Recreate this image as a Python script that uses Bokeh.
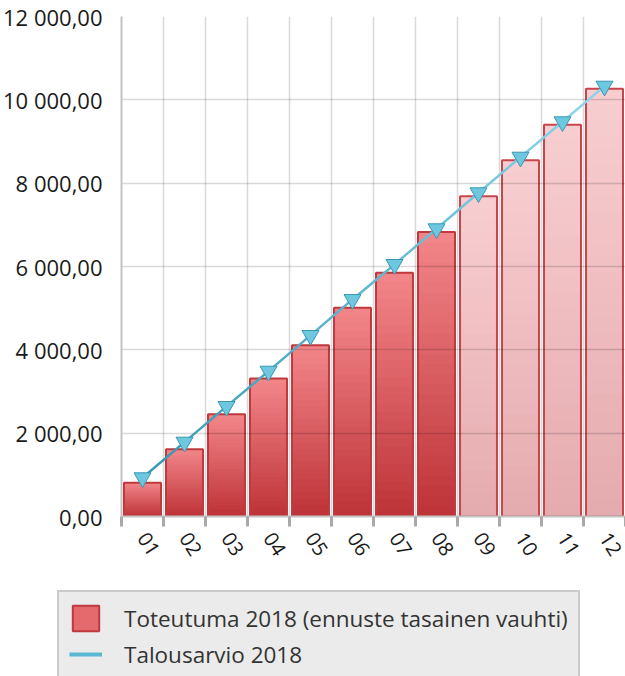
from bokeh.plotting import figure
from bokeh.models import (ColumnDataSource, Range1d, FixedTicker, Legend, LegendItem)
from bokeh.embed import file_html
from bokeh.resources import INLINE

# ---- data ----
month_labels = ["01", "02", "03", "04", "05", "06", "07", "08", "09", "10", "11", "12"]
months = [1, 2, 3, 4, 5, 6, 7, 8, 9, 10, 11, 12]
toteutuma = [811, 1613, 2453, 3312, 4109, 5011, 5851, 6828, 7684, 8548, 9403, 10266]
is_forecast = [False, False, False, False, False, False, False, False, True, True, True, True]
talousarvio = [931, 1785, 2642, 3489, 4346, 5210, 6050, 6907, 7771, 8625, 9475, 10329]
y_ticks = [0, 2000, 4000, 6000, 8000, 10000, 12000]
y_tick_labels = ["0,00", "2 000,00", "4 000,00", "6 000,00", "8 000,00", "10 000,00", "12 000,00"]
bar_label = "Toteutuma 2018 (ennuste tasainen vauhti)"
line_label = "Talousarvio 2018"

FONT = "Open Sans"


def hex2rgb(h):
    h = h.lstrip("#")
    return tuple(int(h[i:i + 2], 16) for i in (0, 2, 4))


def mix(c1, c2, t):
    a, b = hex2rgb(c1), hex2rgb(c2)
    return "#%02x%02x%02x" % tuple(int(round(a[i] + (b[i] - a[i]) * t)) for i in range(3))


p = figure(width=625, height=580, output_backend="svg", toolbar_location=None,
           x_range=Range1d(0.5, 12.5), y_range=Range1d(0, 12000),
           min_border_left=120, min_border_right=0, min_border_top=16, min_border_bottom=64)
p.outline_line_color = None
p.background_fill_color = "white"

# ---- gradient bars (layered, opaque) ----
N = 28
act_top, act_bot = "#f3878b", "#bd3236"
fc_top, fc_bot = "#f8ced1", "#e5abae"
act_x = [m for m, f in zip(months, is_forecast) if not f]
act_v = [v for v, f in zip(toteutuma, is_forecast) if not f]
fc_x = [m for m, f in zip(months, is_forecast) if f]
fc_v = [v for v, f in zip(toteutuma, is_forecast) if f]
for k in range(N):
    frac = (N - k) / N
    t = (N - k - 0.5) / N  # 1 = top colour
    r1 = p.vbar(x=act_x, top=[v * frac for v in act_v], bottom=0, width=0.88,
                fill_color=mix(act_bot, act_top, t), line_color=None)
    r2 = p.vbar(x=fc_x, top=[v * frac for v in fc_v], bottom=0, width=0.88,
                fill_color=mix(fc_bot, fc_top, t), line_color=None)
    r1.level = "image"
    r2.level = "image"
o1 = p.vbar(x=act_x, top=act_v, bottom=0, width=0.88, fill_color=None,
            line_color="#c0393d", line_width=2)
o2 = p.vbar(x=fc_x, top=fc_v, bottom=0, width=0.88, fill_color=None,
            line_color="#c8464a", line_width=2)
o1.level = "image"
o2.level = "image"

# ---- budget line with colour gradient ----
seg_src = ColumnDataSource(dict(
    x0=months[:-1], y0=talousarvio[:-1], x1=months[1:], y1=talousarvio[1:],
    c=[mix("#3a9bb6", "#8ad5ea", i / (len(months) - 2)) for i in range(len(months) - 1)]))
p.segment(x0="x0", y0="y0", x1="x1", y1="y1", source=seg_src, line_color="c",
          line_width=2.5, line_cap="round")
p.scatter(x=months, y=talousarvio, marker="inverted_triangle", size=17,
          fill_color="#6dc7df", line_color="#3b98b2", line_width=1)

# ---- axes ----
xt = FixedTicker(ticks=months, minor_ticks=[m - 0.5 for m in months] + [12.5])
p.xaxis.ticker = xt
p.xaxis.major_label_overrides = {m: lab for m, lab in zip(months, month_labels)}
p.xaxis.major_tick_line_color = None
p.xaxis.minor_tick_line_color = "#a9a9a9"
p.xaxis.minor_tick_line_width = 3
p.xaxis.minor_tick_in = 0
p.xaxis.minor_tick_out = 10
p.xaxis.axis_line_color = "#c4c4c4"
p.xaxis.axis_line_width = 2
p.xaxis.major_label_orientation = -1.0
p.xaxis.major_label_text_font = FONT
p.xaxis.major_label_text_font_size = "20px"
p.xaxis.major_label_text_color = "#1a1a1a"
p.xaxis.major_label_standoff = 8

p.yaxis.ticker = FixedTicker(ticks=y_ticks)
p.yaxis.major_label_overrides = {t: lab for t, lab in zip(y_ticks, y_tick_labels)}
p.yaxis.major_tick_line_color = None
p.yaxis.minor_tick_line_color = None
p.yaxis.axis_line_color = "#c4c4c4"
p.yaxis.axis_line_width = 2
p.yaxis.major_label_text_font = FONT
p.yaxis.major_label_text_font_size = "22px"
p.yaxis.major_label_text_color = "#1a1a1a"
p.yaxis.major_label_standoff = 13

p.xgrid.grid_line_color = None
p.xgrid.minor_grid_line_color = "black"
p.xgrid.minor_grid_line_alpha = 0.15
p.xgrid.minor_grid_line_width = 1.5
p.ygrid.grid_line_color = "black"
p.ygrid.grid_line_alpha = 0.15
p.ygrid.grid_line_width = 1.5

# ---- legend strip (separate root so its frame spans the full width) ----
lf = figure(width=625, height=96, output_backend="svg", toolbar_location=None,
            x_axis_type=None, y_axis_type=None, x_range=Range1d(0, 1), y_range=Range1d(0, 1),
            min_border=0)
lf.outline_line_color = None
lf.xgrid.visible = False
lf.ygrid.visible = False
leg_bar = lf.vbar(x=[0.5], top=[-2], bottom=[-3], width=0.5, fill_color="#e56a6e",
                  line_color="#c0393d", line_width=2)
leg_line = lf.line(x=[0.4, 0.6], y=[-2, -2], line_color="#5ab8d3", line_width=4)
leg_bar.visible = False
leg_line.visible = False

legend = Legend(items=[LegendItem(label=bar_label, renderers=[leg_bar]),
                       LegendItem(label=line_label, renderers=[leg_line])],
                location=(57, -6))
legend.glyph_width = 33
legend.glyph_height = 32
legend.label_height = 32
legend.spacing = 4
legend.padding = 10
legend.margin = 0
legend.label_standoff = 22
legend.label_text_font = FONT
legend.label_text_font_size = "22.5px"
legend.label_text_color = "#333333"
legend.background_fill_color = "#ebebeb"
legend.background_fill_alpha = 1
legend.border_line_color = "#ababab"
legend.border_line_width = 2
legend.inactive_fill_alpha = 0
lf.add_layout(legend, "center")

open("out.html", "w").write(file_html([p, lf], INLINE))
